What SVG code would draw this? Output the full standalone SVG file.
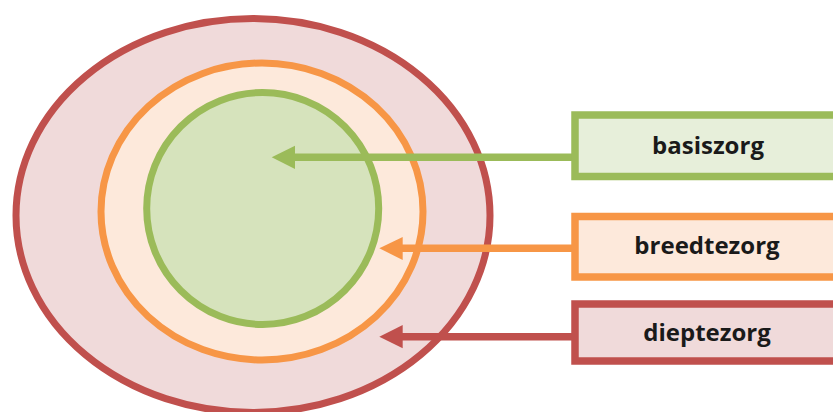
<svg xmlns="http://www.w3.org/2000/svg" width="833" height="412" viewBox="0 0 833 412">
<style>
.lbl{font-family:"Open Sans","DejaVu Sans",sans-serif;font-weight:bold;font-size:24px;fill:#1a1a1a;text-anchor:middle}
.ring{stroke-width:7}
.box{stroke-width:7.5}
</style>
<rect width="833" height="412" fill="#ffffff"/>
<g id="dieptezorg-ring"><ellipse class="ring" cx="253" cy="215.5" rx="237" ry="197" fill="#F0DADA" stroke="#C0504D"/></g>
<g id="breedtezorg-ring"><ellipse class="ring" cx="262" cy="211.5" rx="161" ry="148.5" fill="#FDE9DB" stroke="#F79646"/></g>
<g id="basiszorg-ring"><ellipse class="ring" cx="262.7" cy="208.5" rx="116" ry="116" fill="#D6E3BC" stroke="#9BBB59"/></g>
<g id="connectors">
<line x1="575" y1="157.3" x2="293" y2="157.3" stroke="#9BBB59" stroke-width="7.5"/>
<polygon points="271.7,157.3 295,145.7 295,169" fill="#9BBB59"/>
<line x1="575" y1="248.3" x2="400" y2="248.3" stroke="#F79646" stroke-width="7.5"/>
<polygon points="379.3,248.3 402.7,237 402.7,260" fill="#F79646"/>
<line x1="575" y1="336.7" x2="400" y2="336.7" stroke="#C0504D" stroke-width="7.5"/>
<polygon points="379.3,336.7 402.7,325 402.7,348.3" fill="#C0504D"/>
</g>
<g id="basiszorg"><rect class="box" x="575" y="115" width="270" height="61.5" fill="#E7EFDA" stroke="#9BBB59"/><text class="lbl" x="708" y="154">basiszorg</text></g>
<g id="breedtezorg"><rect class="box" x="575" y="216.5" width="270" height="60.5" fill="#FDE9DB" stroke="#F79646"/><text class="lbl" x="707" y="254">breedtezorg</text></g>
<g id="dieptezorg"><rect class="box" x="575" y="304" width="270" height="57" fill="#F0DADA" stroke="#C0504D"/><text class="lbl" x="707" y="341">dieptezorg</text></g>
</svg>
